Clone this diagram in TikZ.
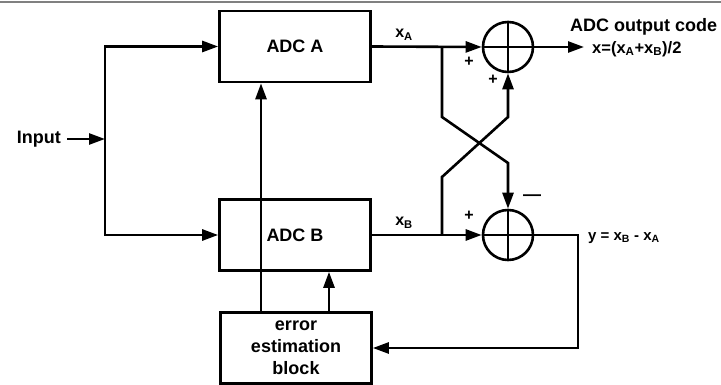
\documentclass[tikz,border=0pt]{standalone}
\usepackage{fontspec}
\setmainfont{Liberation Sans}
\usepackage{tikz}
\usetikzlibrary{arrows.meta,positioning}

\begin{document}
\begin{tikzpicture}[
  x=1pt, y=-1pt,
  font=\fontsize{18}{22}\selectfont\bfseries,
  box/.style={draw, line width=2.6pt, align=center, minimum width=151pt, minimum height=71pt, inner sep=2pt},
  sum/.style={draw, circle, line width=2.6pt, minimum size=50pt, inner sep=0pt},
  line/.style={line width=2.6pt},
  arrow/.style={-{Triangle[length=16pt,width=11pt]}, line width=2.6pt},
  lbl/.style={font=\fontsize{16}{18}\selectfont\bfseries, inner sep=1pt},
  sign/.style={font=\fontsize{16}{16}\selectfont\bfseries, inner sep=0pt}
]
\useasboundingbox (0,0) rectangle (721,385);
\draw[gray, line width=2pt] (0,2) -- (721,2);
\node[box] (adcA) at (295,46.5) {ADC A};
\node[box] (adcB) at (295,235) {ADC B};
\node[box] (errest) at (296,348) {error\\estimation\\block};
\node[anchor=east, inner sep=0pt] (input) at (61,139) {Input};
\coordinate (split) at (105,139);
\node[sum] (sumA) at (508,47) {};
\node[sum] (sumB) at (508,235) {};
\draw[line] (sumA.north) -- (sumA.south);
\draw[line] (sumA.west) -- (sumA.east);
\draw[line] (sumB.north) -- (sumB.south);
\draw[line] (sumB.west) -- (sumB.east);
% input splitting
\draw[arrow] (input.east) ++(6,0) -- (split);
\draw[arrow] (split) |- (adcA.west);
\draw[arrow] (split) |- (adcB.west);
% correction paths
\draw[arrow] ([xshift=-35pt]errest.north) -- ([xshift=-35pt]errest.north |- adcA.south);
\draw[arrow] ([xshift=33pt]errest.north) -- ([xshift=33pt]errest.north |- adcB.south);
% cross connection
\coordinate (tapA) at (442,47);
\coordinate (tapB) at (442,235);
\coordinate (kneeA) at (442,117);
\coordinate (kneeB) at (442,177);
\draw[arrow] (adcA.east) -- (sumA.west);
\draw[arrow] (adcB.east) -- (sumB.west);
\draw[arrow] (tapA) -- (kneeA) -- (508,163) -- (sumB.north);
\draw[arrow] (tapB) -- (kneeB) -- (508,117) -- (sumA.south);
\node[lbl] (labA) at (404,35) {x\textsubscript{A}};
\node[lbl] (labB) at (404,223) {x\textsubscript{B}};
\node[sign] (pA1) at (469,62) {+};
\node[sign] (pA2) at (493,80) {+};
\node[sign] (pB1) at (469,216) {+};
\node[sign, font=\fontsize{18}{18}\selectfont\bfseries] (mB) at (532,198) {—};
% outputs
\coordinate (outA) at (584,47);
\draw[arrow] (sumA.east) -- (outA);
\node[anchor=west, inner sep=0pt] (code) at (570,27) {ADC output code};
\node[anchor=west, lbl, font=\fontsize{16.5}{18}\selectfont\bfseries, inner sep=0pt] (xout) at (592,49) {x=(x\textsubscript{A}+x\textsubscript{B})/2};
\coordinate (turnB) at (578,235);
\draw[arrow] (sumB.east) -- (turnB) |- (errest.east);
\node[anchor=west, lbl, font=\fontsize{15}{18}\selectfont\bfseries, inner sep=0pt] (yout) at (588,238) {y = x\textsubscript{B} - x\textsubscript{A}};
\end{tikzpicture}
\end{document}
